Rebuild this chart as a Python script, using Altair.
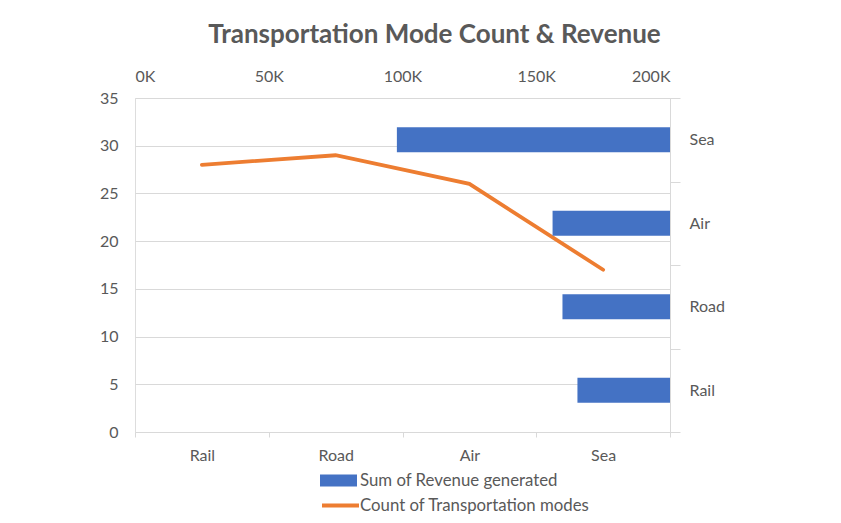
import altair as alt
import pandas as pd

modes = ["Rail", "Road", "Air", "Sea"]
counts = [28, 29, 26, 17]
revenue = [165400, 159800, 156100, 97900]

FONT = "Lato"
GRAY = "#595959"
LINE_GRAY = "#d9d9d9"
BLUE = "#4472C4"
ORANGE = "#ED7D31"
S1 = "Sum of Revenue generated"
S2 = "Count of Transportation modes"

df = pd.DataFrame({"mode": modes, "count": counts, "revenue": revenue,
                   "s1": [S1] * 4, "s2": [S2] * 4})


def make_legend(y, shape, offset, **kw):
    return alt.Legend(
        orient="none", legendX=191, legendY=y, direction="vertical", title=None,
        labelFont=FONT, labelFontSize=16.8, labelColor=GRAY, symbolSize=625,
        labelOffset=offset, labelLimit=400, padding=0, symbolType=shape, symbolOpacity=1, **kw,
    )


bars = alt.Chart(df).mark_bar(size=25).encode(
    x=alt.X("revenue:Q", scale=alt.Scale(domain=[0, 200000], nice=False),
            axis=alt.Axis(orient="top", title=None, values=[0, 50000, 100000, 150000, 200000],
                          labelExpr="datum.value / 1000 + 'K'", domain=False, ticks=False,
                          tickSize=0, grid=False, labelPadding=14, labelFont=FONT,
                          labelFontSize=16, labelColor=GRAY)),
    x2=alt.X2Datum(200000),
    y=alt.Y("mode:N", sort=["Sea", "Air", "Road", "Rail"],
            scale=alt.Scale(paddingInner=0, paddingOuter=0),
            axis=alt.Axis(orient="right", title=None, domain=True, domainColor=LINE_GRAY,
                          ticks=True, tickBand="extent", tickSize=10, tickColor=LINE_GRAY,
                          grid=False, labelPadding=9, labelFont=FONT, labelFontSize=16,
                          labelColor=GRAY)),
    fill=alt.Fill("s1:N", scale=alt.Scale(domain=[S1], range=[BLUE]),
                  legend=make_legend(370, "M-1.48,-0.48H1.48V0.48H-1.48Z", 9,
                                     symbolStrokeWidth=0)),
)

line = alt.Chart(df).mark_line(strokeWidth=3.8, strokeCap="round").encode(
    x=alt.X("mode:N", sort=modes, scale=alt.Scale(paddingInner=0, paddingOuter=0),
            axis=alt.Axis(orient="bottom", title=None, labelAngle=0, domain=False,
                          ticks=True, tickBand="extent", tickSize=5, tickColor=LINE_GRAY,
                          grid=False, labelPadding=10, labelFont=FONT, labelFontSize=16,
                          labelColor=GRAY)),
    y=alt.Y("count:Q", scale=alt.Scale(domain=[0, 35], nice=False),
            axis=alt.Axis(orient="left", title=None, values=[0, 5, 10, 15, 20, 25, 30, 35],
                          domain=False, ticks=False, tickSize=0, grid=True,
                          gridColor=LINE_GRAY, gridWidth=1, labelPadding=17,
                          labelFont=FONT, labelFontSize=16, labelColor=GRAY)),
    stroke=alt.Stroke("s2:N", scale=alt.Scale(domain=[S2], range=[ORANGE]),
                      legend=make_legend(393, "M-1.48,0H1.48", 5, symbolStrokeWidth=3.8)),
)

chart = alt.layer(line, bars).resolve_scale(x="independent", y="independent").properties(
    width=535, height=334,
    autosize=alt.AutoSizeParams(type="none"),
    padding={"left": 127, "top": 90, "right": 163, "bottom": 85},
    title=alt.TitleParams("Transportation Mode Count & Revenue", font=FONT, fontSize=26,
                          fontWeight="bold", color=GRAY, anchor="middle", frame="group",
                          dx=32, offset=20),
).configure_view(stroke=None).configure(background="white")

chart.save("out.html", embed_options={"renderer": "svg", "actions": False})
